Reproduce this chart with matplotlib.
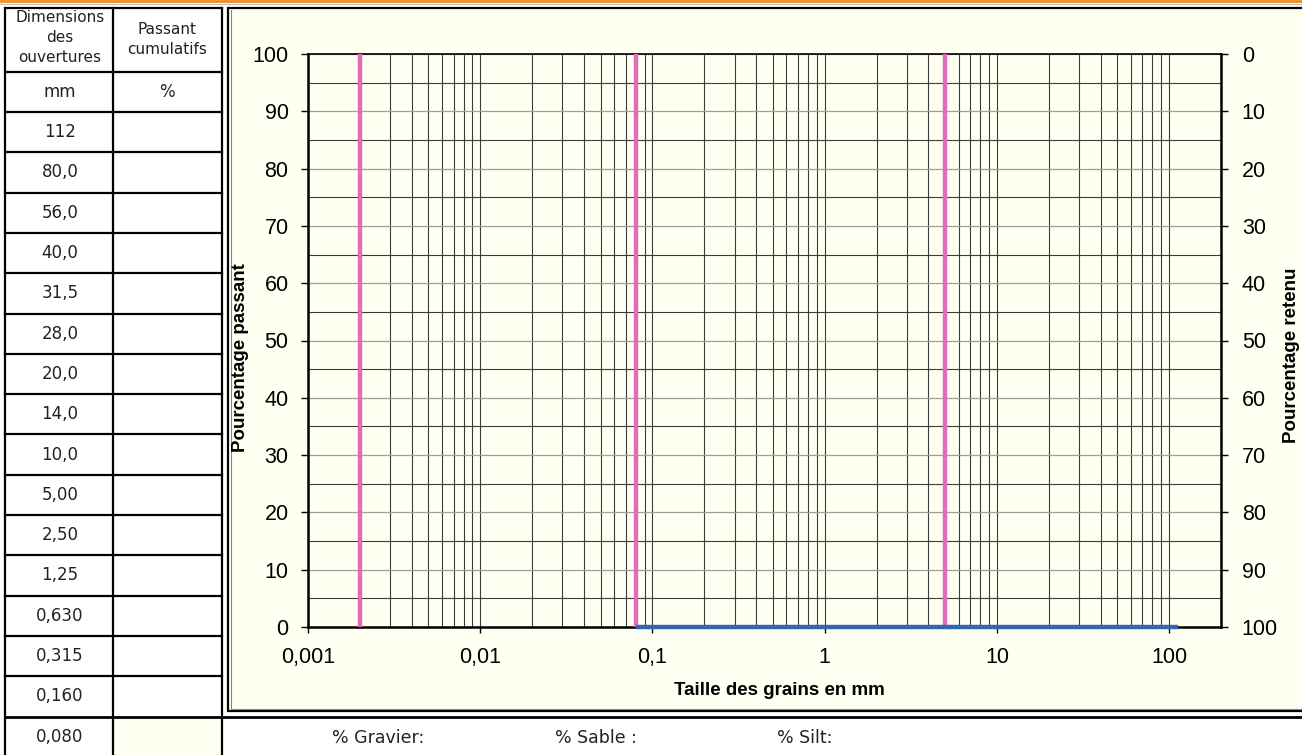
import numpy as np
import matplotlib
matplotlib.use("Agg")
import matplotlib.pyplot as plt
from matplotlib.ticker import LogLocator, MultipleLocator, NullFormatter
from matplotlib.patches import Rectangle

# sieve table (mm) and cumulative passing (%) - cells are empty in the sheet
sieve_mm = [112, 80.0, 56.0, 40.0, 31.5, 28.0, 20.0, 14.0, 10.0, 5.00, 2.50, 1.25, 0.630, 0.315, 0.160, 0.080]
sieve_labels = ["112", "80,0", "56,0", "40,0", "31,5", "28,0", "20,0", "14,0", "10,0",
                "5,00", "2,50", "1,25", "0,630", "0,315", "0,160", "0,080"]
passing_pct = [0, 0, 0, 0, 0, 0, 0, 0, 0, 0, 0, 0, 0, 0, 0, 0]

# class limits : silt / sand / gravel
limits_mm = [0.002, 0.08, 5.0]

x_ticks = [0.001, 0.01, 0.1, 1, 10, 100]
x_ticklabels = ["0,001", "0,01", "0,1", "1", "10", "100"]
y_ticks = [0, 10, 20, 30, 40, 50, 60, 70, 80, 90, 100]

summary_labels = ["% Gravier:", "% Sable :", "% Silt:"]

plt.rcParams['font.family'] = ['Liberation Sans', 'DejaVu Sans']
W, H = 1302, 755
cream = "#FFFFF2"
pink = "#E36CBA"
blue = "#3366B0"
table_font = "DejaVu Sans"
txt_col = "#222222"

fig = plt.figure(figsize=(W / 100, H / 100), dpi=100)
fig.patch.set_facecolor("white")

# background layer in pixel coordinates
bg = fig.add_axes([0, 0, 1, 1], zorder=0)
bg.set_xlim(0, W)
bg.set_ylim(H, 0)
bg.axis("off")

# orange rule at the top
bg.plot([0, W], [1, 1], color="#F08A24", lw=2, clip_on=False)
bg.plot([0, W], [3.5, 3.5], color="#BBBBBB", lw=0.8, clip_on=False)

# chart frame
bg.add_patch(Rectangle((228, 8), W, 703, facecolor=cream, edgecolor="black", lw=1.6, clip_on=False))
bg.plot([230.5, 230.5], [10, 709], color="#888888", lw=0.8)
bg.plot([230.5, W], [709, 709], color="#888888", lw=0.8)

# table
mm_top = 71.7
row_h = 40.3
data_top = mm_top + row_h
n_rows = len(sieve_labels)
last_top = data_top + row_h * (n_rows - 1)
bg.add_patch(Rectangle((113, last_top), 109, H, facecolor=cream, edgecolor="none"))
lw_t = 1.6
for xv in [5, 113, 222]:
    bg.plot([xv, xv], [8, H + 2], color="black", lw=lw_t, clip_on=False)
bg.plot([5, 222], [8, 8], color="black", lw=lw_t)
for k in range(n_rows):
    yv = mm_top + row_h * k
    bg.plot([5, 222], [yv, yv], color="black", lw=lw_t)
bg.plot([5, W], [last_top, last_top], color="black", lw=lw_t + 0.4, clip_on=False)

hdr = dict(ha="center", va="center", fontsize=11, family=table_font, color=txt_col)
bg.text(60, 17, "Dimensions", **hdr)
bg.text(60, 37, "des", **hdr)
bg.text(60, 57, "ouvertures", **hdr)
bg.text(167, 29, "Passant", **hdr)
bg.text(167, 50, "cumulatifs", **hdr)
cell = dict(ha="center", va="center", fontsize=12, family=table_font, color=txt_col)
bg.text(60, 92, "mm", **cell)
bg.text(167, 92, "%", **cell)
for i, lab in enumerate(sieve_labels):
    yc = data_top + row_h * i + row_h / 2
    bg.text(60, yc, lab, **cell)

for lab, xv in zip(summary_labels, [332, 555, 777]):
    bg.text(xv, 738, lab, ha="left", va="center", fontsize=12.5, family=table_font, color=txt_col)

# grading chart
x0, x1, y_top, y_bot = 308, 1221, 54, 627
ax = fig.add_axes([x0 / W, 1 - y_bot / H, (x1 - x0) / W, (y_bot - y_top) / H], zorder=2)
ax.set_facecolor(cream)
ax.set_xscale("log")
ax.set_xlim(0.001, 200)
ax.set_ylim(0, 100)

ax.xaxis.set_minor_locator(LogLocator(base=10, subs=np.arange(2, 10)))
ax.xaxis.set_minor_formatter(NullFormatter())
ax.set_xticks(x_ticks)
ax.set_xticklabels(x_ticklabels)
ax.yaxis.set_minor_locator(MultipleLocator(5))
ax.set_yticks(y_ticks)

ax.grid(which="both", axis="x", color="#3a3a3a", lw=0.8)
ax.grid(which="major", axis="y", color="#9c9c9c", lw=0.9)
ax.grid(which="minor", axis="y", color="#3a3a3a", lw=0.8)
ax.set_axisbelow(True)

ax.tick_params(axis="both", which="minor", length=0)
ax.tick_params(axis="x", which="major", direction="out", length=4.5, width=1, pad=10, labelsize=15.5)
ax.tick_params(axis="y", which="major", direction="out", length=5, width=1, pad=9, labelsize=15.5)

for lim in limits_mm:
    ax.plot([lim, lim], [0, 100], color=pink, lw=3.2, zorder=3, solid_capstyle="butt")
ax.plot(sieve_mm, passing_pct, color=blue, lw=3.2, zorder=4, clip_on=False, solid_capstyle="butt")

for side in ["left", "bottom", "right"]:
    ax.spines[side].set_linewidth(1.8)
ax.spines["top"].set_linewidth(1.2)

ax2 = ax.twinx()
ax2.set_ylim(100, 0)
ax2.set_yticks(y_ticks)
ax2.tick_params(axis="y", direction="out", length=5, width=1, pad=10, labelsize=15.5)
for side in ["left", "bottom", "right", "top"]:
    ax2.spines[side].set_visible(False)

pw, ph = x1 - x0, y_bot - y_top
ax.set_ylabel("Pourcentage passant", fontsize=13.5, fontweight="bold")
ax.yaxis.set_label_coords((249 - x0) / pw, 0.47)
ax2.set_ylabel("Pourcentage retenu", fontsize=13.5, fontweight="bold", rotation=90)
ax2.yaxis.set_label_coords((1283 - x0) / pw, 0.475)
ax.set_xlabel("Taille des grains en mm", fontsize=13.5, fontweight="bold")
ax.xaxis.set_label_coords((779 - x0) / pw, -(682 - y_bot) / ph)

fig.savefig("out.png", dpi=100, facecolor="white")
